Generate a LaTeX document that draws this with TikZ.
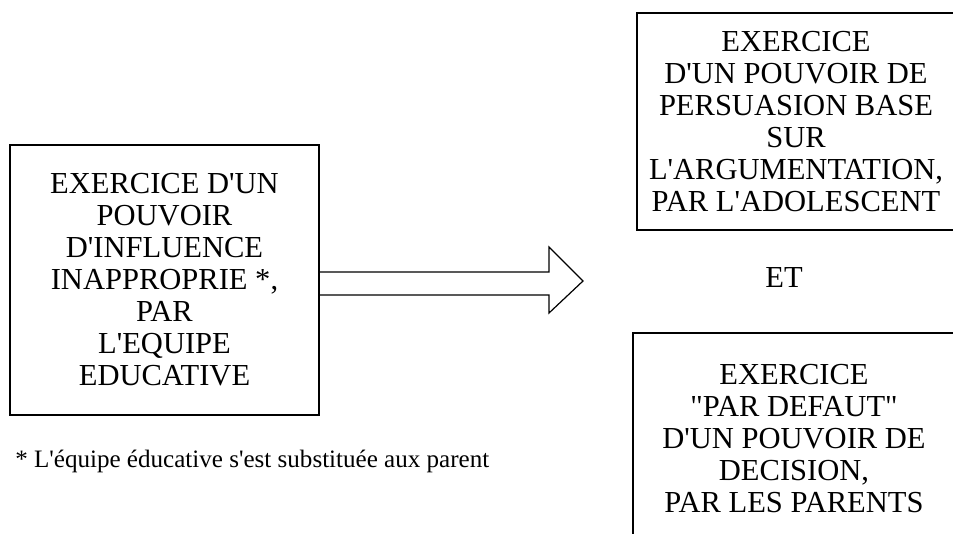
\documentclass[tikz,border=0pt]{standalone}
\usepackage{fontspec}
\setmainfont{Liberation Serif}[Ligatures=TeXOff]
\begin{document}
\begin{tikzpicture}[x=0.75pt,y=-0.75pt,
  boxstyle/.style={draw=black, line width=0.9pt, align=center, inner sep=0pt,
    font=\fontsize{22.9}{24}\selectfont},
  arrowstyle/.style={draw=black, line width=0.9pt, line join=miter}]
\useasboundingbox (0,0) rectangle (953,533);
\clip (0,0) rectangle (953,533);
\node[boxstyle, minimum width=231.75pt, minimum height=202.5pt] (L) at (164.5,280)
  {EXERCICE D'UN\\POUVOIR\\D'INFLUENCE\\INAPPROPRIE *,\\PAR\\L'EQUIPE\\EDUCATIVE};
\node[boxstyle, minimum width=238.5pt, minimum height=162.75pt] (R1) at (796,121.5)
  {EXERCICE\\D'UN POUVOIR DE\\PERSUASION BASE\\SUR\\L'ARGUMENTATION,\\PAR L'ADOLESCENT};
\node[boxstyle, minimum width=241.5pt, minimum height=158.25pt] (R2) at (794,438.5)
  {EXERCICE\\"PAR DEFAUT"\\D'UN POUVOIR DE\\DECISION,\\PAR LES PARENTS};
\node[anchor=base, inner sep=0pt, font=\fontsize{22.9}{24}\selectfont] (et) at (784,287) {ET};
\node[anchor=base west, inner sep=0pt, font=\fontsize{18.8}{22}\selectfont] (fn) at (15,467)
  {* L'équipe éducative s'est substituée aux parent};
% block arrow from the left box
\coordinate (a1) at (L.east |- 0,272);
\coordinate (a2) at (L.east |- 0,295);
\draw[arrowstyle] (a1) -- (549,272) -- (549,247) -- (583,281) -- (549,313) -- (549,295) -- (a2);
\end{tikzpicture}
\end{document}
